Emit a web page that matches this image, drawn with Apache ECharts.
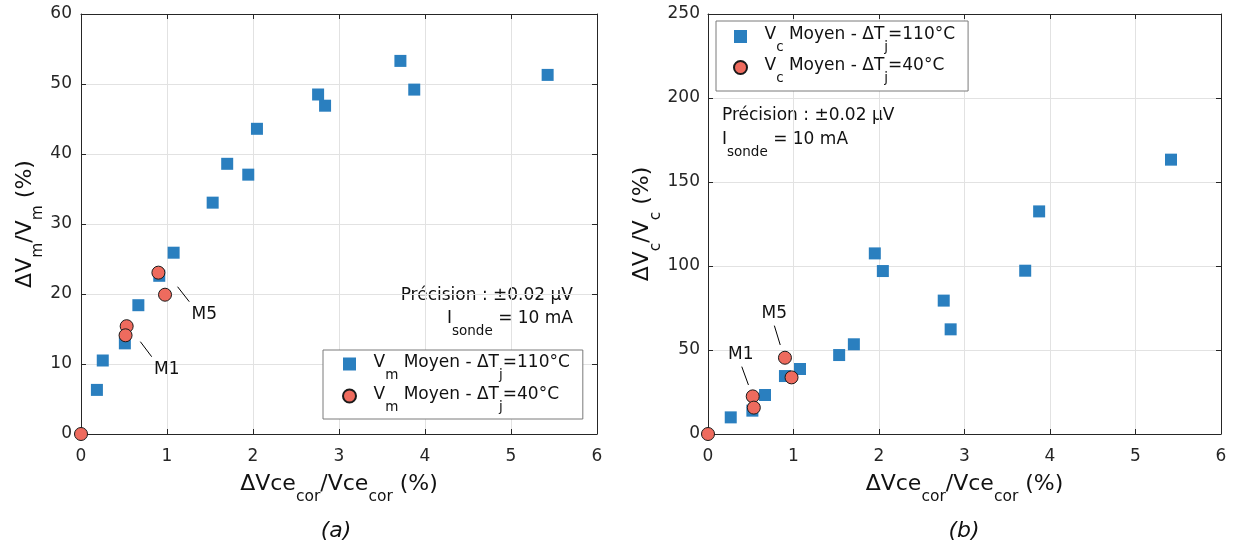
<!DOCTYPE html>
<html>
<head>
<meta charset="utf-8">
<script src="https://cdn.jsdelivr.net/npm/echarts@6/dist/echarts.min.js"></script>
<style>
html,body{margin:0;padding:0;background:#fff;}
#chart{width:1234px;height:546px;}
</style>
</head>
<body>
<div id="chart"></div>
<script>
// ---------- data ----------
const xTicks = [0, 1, 2, 3, 4, 5, 6];
const yTicksA = [0, 10, 20, 30, 40, 50, 60];
const yTicksB = [0, 50, 100, 150, 200, 250];

// (a) Vm
const vmHotX  = [0.185, 0.253, 0.51, 0.667, 0.91, 1.077, 1.531, 1.70, 1.945, 2.046, 2.757, 2.838, 3.714, 3.875, 5.426];
const vmHotY  = [6.3, 10.5, 12.95, 18.4, 22.6, 25.9, 33.05, 38.6, 37.05, 43.6, 48.5, 46.9, 53.3, 49.2, 51.3];
const vmColdX = [0, 0.531, 0.518, 0.90, 0.977];
const vmColdY = [0, 15.4, 14.1, 23.05, 19.9];

// (b) Vc
const vcHotX  = [0.266, 0.519, 0.667, 0.90, 1.076, 1.534, 1.706, 1.951, 2.045, 2.757, 2.838, 3.71, 3.873, 5.415];
const vcHotY  = [9.9, 13.9, 23.2, 34.5, 38.7, 47.0, 53.4, 107.5, 97.0, 79.4, 62.3, 97.2, 132.5, 163.3];
const vcColdX = [0, 0.523, 0.536, 0.90, 0.977];
const vcColdY = [0, 22.4, 15.7, 45.4, 33.7];

// annotation anchors (data coordinates)
const annA = {
  M1: { text: [0.997, 9.14], line: [[0.69, 13.19], [0.822, 11.04]] },
  M5: { text: [1.434, 17.0], line: [[1.123, 21.04], [1.259, 18.9]] }
};
const annB = {
  M1: { text: [0.384, 47.0], line: [[0.395, 40.1], [0.473, 29.2]] },
  M5: { text: [0.776, 71.8], line: [[0.776, 64.5], [0.845, 53.0]] }
};

// ---------- styles ----------
const FONT = "'DejaVu Sans', 'Liberation Sans', Arial, sans-serif";
const INK = '#262626';
const TXT = '#111111';
const BLUE = '#2a7fbf';
const RED = '#ee6b5e';
const SQUARE_ICON = 'path://M0,0L10,0L10,10L0,10Z';

const smallRich = {
  t: { fontSize: 17, lineHeight: 20, verticalAlign: 'top', color: TXT, fontFamily: FONT },
  s: { fontSize: 13.5, lineHeight: 15, padding: [14, 0, 0, 0], verticalAlign: 'top', color: TXT, fontFamily: FONT }
};
const nameRich = {
  t: { fontSize: 22, lineHeight: 26, verticalAlign: 'top', color: TXT, fontFamily: FONT },
  s: { fontSize: 15.5, lineHeight: 18, padding: [16, 0, 0, 0], verticalAlign: 'top', color: TXT, fontFamily: FONT }
};

const legendLabels = {
  Vm110: '{t|V}{s|m}{t| Moyen - \u0394T}{s|j}{t|=110°C}',
  Vm40:  '{t|V}{s|m}{t| Moyen - \u0394T}{s|j}{t|=40°C}',
  Vc110: '{t|V}{s|c}{t| Moyen - \u0394T}{s|j}{t|=110°C}',
  Vc40:  '{t|V}{s|c}{t| Moyen - \u0394T}{s|j}{t|=40°C}'
};

function pairs(xs, ys) { return xs.map((x, i) => [x, ys[i]]); }

function valueAxis(ticks, gridIndex, position, primary, extra) {
  const step = ticks[1] - ticks[0];
  return Object.assign({
    type: 'value', gridIndex: gridIndex, position: position,
    min: ticks[0], max: ticks[ticks.length - 1], interval: step,
    axisLine: { show: true, onZero: false, lineStyle: { color: INK, width: 1 } },
    axisTick: { show: true, inside: true, length: 5, lineStyle: { color: INK, width: 1 } },
    axisLabel: { show: primary, color: INK, fontSize: 17, fontFamily: FONT },
    splitLine: { show: primary, lineStyle: { color: '#e2e2e2', width: 1 } }
  }, extra || {});
}

function annotations(ann) {
  const lines = [], points = [];
  Object.keys(ann).forEach(k => {
    lines.push([{ coord: ann[k].line[0] }, { coord: ann[k].line[1] }]);
    points.push({ name: k, coord: ann[k].text });
  });
  return {
    markLine: {
      silent: true, symbol: ['none', 'none'], animation: false,
      label: { show: false },
      lineStyle: { color: '#000', width: 1, type: 'solid' },
      emphasis: { disabled: true },
      data: lines
    },
    markPoint: {
      silent: true, symbol: 'circle', symbolSize: 1, animation: false,
      itemStyle: { color: 'rgba(0,0,0,0)' },
      label: { show: true, position: 'inside', formatter: p => p.name, color: TXT, fontSize: 17, fontFamily: FONT },
      data: points
    }
  };
}

function hotSeries(name, x, y, xi, yi) {
  return {
    name: name, type: 'scatter', xAxisIndex: xi, yAxisIndex: yi,
    symbol: 'rect', symbolSize: 12,
    itemStyle: { color: BLUE, opacity: 1 },
    data: pairs(x, y), z: 3
  };
}
function coldSeries(name, x, y, xi, yi, ann) {
  return Object.assign({
    name: name, type: 'scatter', xAxisIndex: xi, yAxisIndex: yi,
    symbol: 'circle', symbolSize: 13,
    itemStyle: { color: RED, borderColor: '#1a1a1a', borderWidth: 1, opacity: 1 },
    data: pairs(x, y), z: 4
  }, annotations(ann));
}

const legendCommon = {
  orient: 'vertical', itemWidth: 38, itemHeight: 13,
  symbolKeepAspect: true,
  backgroundColor: '#ffffff', borderColor: '#7a7a7a', borderWidth: 1, borderRadius: 0,
  selectedMode: false,
  formatter: n => legendLabels[n],
  textStyle: { rich: smallRich, fontFamily: FONT }
};

const xName = '{t|\u0394Vce}{s|cor}{t|/Vce}{s|cor}{t| (%)}';

const option = {
  animation: false,
  backgroundColor: '#ffffff',
  textStyle: { fontFamily: FONT },
  grid: [
    { left: 81, top: 14, width: 516, height: 420 },
    { left: 708, top: 14, width: 513, height: 420 }
  ],
  xAxis: [
    valueAxis(xTicks, 0, 'bottom', true, {
      name: xName, nameLocation: 'middle', nameGap: 39,
      nameTextStyle: { rich: nameRich },
      axisLabel: { show: true, color: INK, fontSize: 17, fontFamily: FONT, margin: 14 }
    }),
    valueAxis(xTicks, 0, 'top', false),
    valueAxis(xTicks, 1, 'bottom', true, {
      name: xName, nameLocation: 'middle', nameGap: 39,
      nameTextStyle: { rich: nameRich },
      axisLabel: { show: true, color: INK, fontSize: 17, fontFamily: FONT, margin: 14 }
    }),
    valueAxis(xTicks, 1, 'top', false)
  ],
  yAxis: [
    valueAxis(yTicksA, 0, 'left', true, {
      name: '{t|\u0394V}{s|m}{t|/V}{s|m}{t| (%)}', nameLocation: 'middle', nameGap: 38, nameRotate: 90,
      nameTextStyle: { rich: nameRich },
      axisLabel: { show: true, color: INK, fontSize: 17, fontFamily: FONT, margin: 9 }
    }),
    valueAxis(yTicksA, 0, 'right', false),
    valueAxis(yTicksB, 1, 'left', true, {
      name: '{t|\u0394V}{s|c}{t|/V}{s|c}{t| (%)}', nameLocation: 'middle', nameGap: 46, nameRotate: 90,
      nameTextStyle: { rich: nameRich },
      axisLabel: { show: true, color: INK, fontSize: 17, fontFamily: FONT, margin: 8 }
    }),
    valueAxis(yTicksB, 1, 'right', false)
  ],
  legend: [
    Object.assign({}, legendCommon, {
      left: 323, top: 350, padding: [4, 13, 5, 19], itemGap: 4,
      data: [{ name: 'Vm110', icon: SQUARE_ICON }, { name: 'Vm40', icon: 'circle' }]
    }),
    Object.assign({}, legendCommon, {
      left: 716, top: 21, padding: [5.5, 13, 5.5, 17], itemGap: 3,
      data: [{ name: 'Vc110', icon: SQUARE_ICON }, { name: 'Vc40', icon: 'circle' }]
    })
  ],
  series: [
    hotSeries('Vm110', vmHotX, vmHotY, 0, 0),
    coldSeries('Vm40', vmColdX, vmColdY, 0, 0, annA),
    hotSeries('Vc110', vcHotX, vcHotY, 2, 2),
    coldSeries('Vc40', vcColdX, vcColdY, 2, 2, annB)
  ],
  graphic: [
    { type: 'text', x: 573, y: 296, silent: true,
      style: { text: 'Précision : ±0.02 µV', fill: TXT, fontSize: 17, fontFamily: FONT, align: 'right', verticalAlign: 'middle' } },
    { type: 'text', x: 573, y: 310, silent: true,
      style: { text: '{t|I}{s|sonde}{t| = 10 mA}', rich: smallRich, fill: TXT, fontSize: 17, fontFamily: FONT, align: 'right', verticalAlign: 'top' } },
    { type: 'text', x: 722, y: 116, silent: true,
      style: { text: 'Précision : ±0.02 µV', fill: TXT, fontSize: 17, fontFamily: FONT, align: 'left', verticalAlign: 'middle' } },
    { type: 'text', x: 722, y: 131, silent: true,
      style: { text: '{t|I}{s|sonde}{t| = 10 mA}', rich: smallRich, fill: TXT, fontSize: 17, fontFamily: FONT, align: 'left', verticalAlign: 'top' } },
    { type: 'text', x: 336, y: 531, silent: true,
      style: { text: '(a)', fill: TXT, fontSize: 22, fontStyle: 'italic', fontFamily: FONT, align: 'center', verticalAlign: 'middle' } },
    { type: 'text', x: 964, y: 531, silent: true,
      style: { text: '(b)', fill: TXT, fontSize: 22, fontStyle: 'italic', fontFamily: FONT, align: 'center', verticalAlign: 'middle' } }
  ]
};

const chart = echarts.init(document.getElementById('chart'), null, { renderer: 'canvas' });
chart.setOption(option);
</script>
</body>
</html>
